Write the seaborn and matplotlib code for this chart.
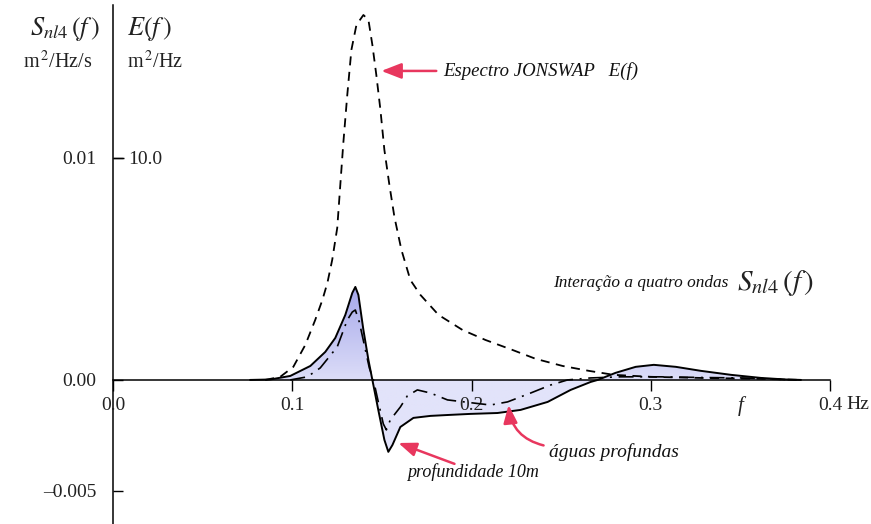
import numpy as np
import matplotlib
matplotlib.use("Agg")
from matplotlib import pyplot as plt
from matplotlib.colors import to_rgb
import seaborn as sns

# frequency (Hz) / Snl4 for a 10 m depth case
f_shallow = [0.0765, 0.0877, 0.0989, 0.1101, 0.1184, 0.1240, 0.1296, 0.1335, 0.1352,
             0.1369, 0.1397, 0.1425, 0.1447, 0.1480, 0.1514, 0.1536, 0.1559, 0.1603,
             0.1676, 0.1771, 0.1866, 0.1994, 0.2145, 0.2274, 0.2425, 0.2553, 0.2665,
             0.2704, 0.2804, 0.2916, 0.3017, 0.3140, 0.3279, 0.3447, 0.3615, 0.3754, 0.3838]
s_shallow = [0.0, 0.00002, 0.00018, 0.00063, 0.00126, 0.00189, 0.00293, 0.00392, 0.00419,
             0.00383, 0.00225, 0.00090, 0.0, -0.00135, -0.00270, -0.00324, -0.00293, -0.00212,
             -0.00171, -0.00162, -0.00158, -0.00153, -0.00149, -0.00135, -0.00099, -0.00045, -0.00009,
             0.0, 0.00032, 0.00059, 0.00068, 0.00059, 0.00041, 0.00023, 0.00009, 0.00002, 0.0]

# deep water Snl4
f_deep = [0.0989, 0.1084, 0.1156, 0.1251, 0.1307, 0.1335, 0.1352, 0.1374, 0.1402, 0.1430,
          0.1453, 0.1480, 0.1508, 0.1525, 0.1547, 0.1603, 0.1642, 0.1698, 0.1771, 0.1866,
          0.2011, 0.2106, 0.2201, 0.2330, 0.2441, 0.2536, 0.2665, 0.2832, 0.3056, 0.3279,
          0.3503, 0.3670, 0.3782]
s_deep = [0.0, 0.00014, 0.00054, 0.00149, 0.00270, 0.00306, 0.00315, 0.00261, 0.00158, 0.00054,
          0.0, -0.00099, -0.00198, -0.00225, -0.00180, -0.00122, -0.00072, -0.00045, -0.00059, -0.00090,
          -0.00104, -0.00113, -0.00099, -0.00059, -0.00023, 0.0, 0.00009, 0.00014, 0.00014, 0.00011,
          0.00009, 0.00005, 0.0]

# JONSWAP spectrum E(f) in m^2/Hz
f_jonswap = [0.0849, 0.0933, 0.1006, 0.1073, 0.1128, 0.1168, 0.1196, 0.1223, 0.1251, 0.1268,
             0.1285, 0.1307, 0.1330, 0.1358, 0.1397, 0.1425, 0.1447, 0.1469, 0.1492, 0.1514,
             0.1542, 0.1570, 0.1609, 0.1659, 0.1715, 0.1816, 0.1950, 0.2078, 0.2229, 0.2358,
             0.2508, 0.2654, 0.2793, 0.3000, 0.3279, 0.3615, 0.3838]
e_jonswap = [0.0, 0.14, 0.59, 1.58, 2.70, 3.60, 4.37, 5.41, 6.85, 8.78,
             10.68, 12.84, 14.87, 15.99, 16.44, 16.22, 15.09, 13.74, 12.16, 10.36,
             8.78, 7.34, 5.86, 4.50, 3.83, 2.93, 2.25, 1.80, 1.35, 0.95,
             0.63, 0.41, 0.23, 0.14, 0.09, 0.05, 0.0]

x_ticks = [0.0, 0.1, 0.2, 0.3, 0.4]
x_labels = ["0.0", "0.1", "0.2", "0.3", "0.4"]
s_ticks = [-0.005, 0.0, 0.01]
s_labels = ["\u20130.005", "0.00", "0.01"]
e_ticks = [10.0]
e_labels = ["10.0"]

sns.set_theme(style="white")
plt.rcParams["font.family"] = ["Liberation Serif", "DejaVu Serif"]
plt.rcParams["mathtext.fontset"] = "stix"

red = "#e8375e"
txt = "#222222"
ylim = (-0.00649, 0.01689)

fig = plt.figure(figsize=(8.71, 5.24), dpi=100)
ax = fig.add_axes([113 / 871, 0.0, (830 - 113) / 871, 1 - 5 / 524])
ax.set_axisbelow(False)

# shaded area between the 10 m curve and zero, with a soft vertical gradient
poly = ax.fill_between(f_shallow, s_shallow, 0, color="none", lw=0)
ys = np.linspace(ylim[1], ylim[0], 300)
top_c, mid_c, neg_c = np.array(to_rgb("#a6a8ea")), np.array(to_rgb("#dcddf8")), np.array(to_rgb("#e2e3fa"))
w = np.clip(ys / 0.0042, 0, 1)[:, None]
cols = np.where(ys[:, None] >= 0, mid_c + (top_c - mid_c) * w, neg_c)
grad = np.repeat(cols[:, None, :], 2, axis=1)
im = ax.imshow(grad, extent=[0, 0.4, ylim[0], ylim[1]], aspect="auto", zorder=0.8,
               interpolation="bilinear")
im.set_clip_path(poly.get_paths()[0], transform=ax.transData)

sns.lineplot(x=f_shallow, y=s_shallow, ax=ax, color="black", lw=1.4, zorder=3)
sns.lineplot(x=f_deep, y=s_deep, ax=ax, color="black", lw=1.2, zorder=3)
ax.lines[-1].set_dashes([9, 4, 1.2, 4])

ax.set_xlim(0, 0.4)
ax.set_ylim(*ylim)

# JONSWAP on the E(f) scale sharing the same vertical axis line
ax2 = ax.twinx()
sns.lineplot(x=f_jonswap, y=e_jonswap, ax=ax2, color="black", lw=1.3, zorder=3)
ax2.lines[-1].set_dashes([5, 3.6])
ax2.set_ylim(ylim[0] * 1000, ylim[1] * 1000)
ax2.set_xlim(0, 0.4)

for a in (ax, ax2):
    a.set_xlabel("")
    a.set_ylabel("")
    a.patch.set_visible(False)
    for side in ("top", "right", "left", "bottom"):
        a.spines[side].set_visible(False)

ax.spines["left"].set_visible(True)
ax.spines["left"].set_color("black")
ax.spines["left"].set_linewidth(1.1)
ax.spines["bottom"].set_visible(True)
ax.spines["bottom"].set_position(("data", 0))
ax.spines["bottom"].set_bounds(0, 0.4)
ax.spines["bottom"].set_color("black")
ax.spines["bottom"].set_linewidth(1.1)

ax.set_xticks(x_ticks, x_labels)
ax.tick_params(axis="x", direction="out", length=8, width=1, color="black",
               labelsize=14, pad=4, bottom=True, labelcolor=txt)
ax.set_yticks(s_ticks, s_labels)
ax.tick_params(axis="y", direction="in", length=7, width=1, color="black",
               labelsize=14, pad=12, left=True, labelcolor=txt)

ax2.spines["right"].set_position(("axes", 0))
ax2.set_yticks(e_ticks, e_labels)
ax2.tick_params(axis="y", direction="out", length=8, width=1, color="black",
                labelsize=14, pad=3, right=True, labelcolor=txt)

# axis headers
ax.text(-0.018, 0.953, r"$S_{nl4}\,(f\,)$", transform=ax.transAxes, ha="right",
        va="center", fontsize=19, color=txt)
ax.text(-0.029, 0.89, r"m$^{\,2}$/Hz/s", transform=ax.transAxes, ha="right",
        va="center", fontsize=14.5, color=txt)
ax.text(0.02, 0.953, r"$E(f\,)$", transform=ax.transAxes, ha="left",
        va="center", fontsize=19, color=txt)
ax.text(0.02, 0.89, r"m$^{\,2}$/Hz", transform=ax.transAxes, ha="left",
        va="center", fontsize=14.5, color=txt)

ax.annotate("Hz", xy=(0.4, 0), xycoords="data", xytext=(12, -18), textcoords="offset points",
            ha="left", va="center", fontsize=14, color=txt)
ax.annotate("f", xy=(0.350, 0), xycoords="data", xytext=(0, -19), textcoords="offset points",
            ha="center", va="center", fontsize=15, style="italic", color=txt)

# annotations
ax.annotate("Espectro JONSWAP   E(f)", xy=(0.1497, 0.01392), xytext=(0.1845, 0.01392),
            fontsize=13.5, style="italic", ha="left", va="center", color="#111111",
            arrowprops=dict(arrowstyle="-|>,head_length=0.9,head_width=0.35", color=red,
                            lw=1.8, shrinkA=3, shrinkB=0))
ax.text(0.2453, 0.00437, "Intera\u00e7\u00e3o a quatro ondas", fontsize=12.4, style="italic",
        ha="left", va="center", color="#111111")
ax.text(0.3480, 0.00437, r"$S_{nl4}\,(f\,)$", fontsize=21, ha="left", va="center",
        color=txt)
ax.annotate("", xy=(0.2207, -0.00113), xytext=(0.2402, -0.00295),
            arrowprops=dict(arrowstyle="-|>,head_length=0.9,head_width=0.35", color=red,
                            lw=1.8, shrinkA=0, shrinkB=0, connectionstyle="arc3,rad=-0.35"))
ax.text(0.2430, -0.00325, "\u00e1guas profundas", fontsize=14, style="italic",
        ha="left", va="center", color="#111111")
ax.annotate("", xy=(0.1592, -0.00284), xytext=(0.1905, -0.00378),
            arrowprops=dict(arrowstyle="-|>,head_length=0.9,head_width=0.35", color=red,
                            lw=1.8, shrinkA=0, shrinkB=0))
ax.text(0.1642, -0.00415, "profundidade 10m", fontsize=13, style="italic",
        ha="left", va="center", color="#111111")

fig.savefig("out.png", dpi=100, facecolor="white")
